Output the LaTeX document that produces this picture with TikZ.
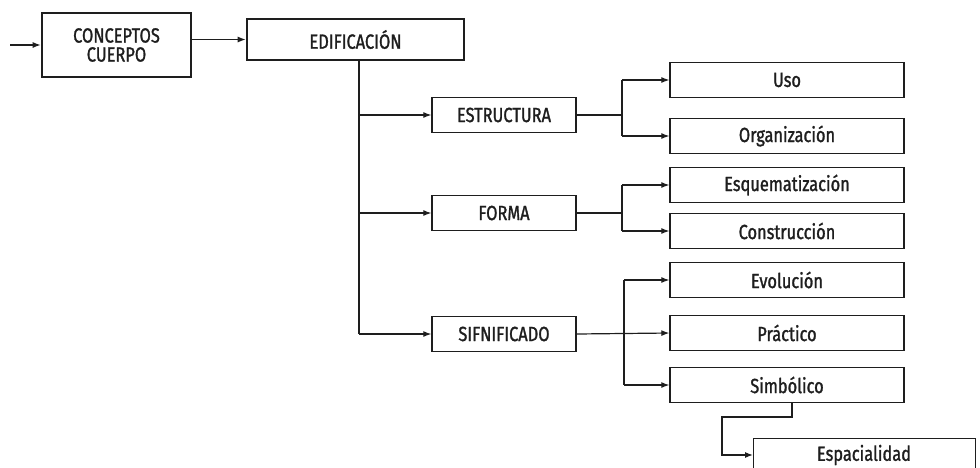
\documentclass[tikz,border=0pt]{standalone}
\usepackage{fontspec}
\setmainfont{Fira Sans}[FakeStretch=0.8,FakeBold=1.3]
\usetikzlibrary{arrows.meta}
\definecolor{ink}{HTML}{1E1E1E}
\begin{document}
\begin{tikzpicture}[x=1pt,y=-1pt,
  box/.style={draw=ink, line width=1.3pt, minimum height=35pt, inner sep=0pt,
              font=\fontsize{20.5}{19}\selectfont, text=ink},
  bigbox/.style={box, line width=2.6pt},
  midbox/.style={box, minimum width=144pt},
  leafbox/.style={box, minimum width=234pt},
  conn/.style={draw=ink, line width=1.2pt},
  arr/.style={conn, -{Latex[length=8pt,width=6pt]}}]
\path[use as bounding box] (0,0) rectangle (980,467);
\clip (0,0) rectangle (980,467);

% main boxes
\node[bigbox, minimum width=149pt, minimum height=64pt, align=center] (c) at (116.5,45) {CONCEPTOS\\CUERPO};
\node[bigbox, minimum width=217pt, minimum height=41pt] (e) at (355.5,39.5) {EDIFICACIÓN};

% middle boxes
\node[midbox] (es) at (504,115) {ESTRUCTURA};
\node[midbox] (fo) at (504,213) {FORMA};
\node[midbox] (si) at (504,334) {SIFNIFICADO};

% leaves
\node[leafbox] (uso) at (787,80)  {Uso};
\node[leafbox] (org) at (787,136) {Organización};
\node[leafbox] (esq) at (787,185) {Esquematización};
\node[leafbox] (con) at (787,231) {Construcción};
\node[leafbox] (evo) at (787,280) {Evolución};
\node[leafbox] (pra) at (787,333) {Práctico};
\node[leafbox] (sim) at (787,385) {Simbólico};
\node[box, minimum width=222pt, anchor=north west] (spa) at (753,437.5) {};
\node[font=\fontsize{20.5}{19}\selectfont, text=ink] (spat) at (864,455) {Espacialidad};

% helper coordinates
\coordinate (in) at (10,45);
\coordinate (t) at (359,0);
\coordinate (j1) at (622,0);
\coordinate (j3) at (624,0);
\coordinate (d) at (792,0);
\coordinate (k) at (722,417);

% connectors
\draw[arr] (in) -- (c.west);
\draw[arr] (c.east |- e.west) -- (e.west);
\draw[conn] (e.south -| t) -- (t |- si);
\draw[arr] (t |- es) -- (es.west);
\draw[arr] (t |- fo) -- (fo.west);
\draw[arr] (t |- si) -- (si.west);

\draw[conn] (es.east) -- (j1 |- es);
\draw[arr] (j1 |- uso) -- (uso.west);
\draw[arr] (j1 |- org) -- (org.west);
\draw[conn] (j1 |- uso) -- (j1 |- org);

\draw[conn] (fo.east) -- (j1 |- fo);
\draw[arr] (j1 |- esq) -- (esq.west);
\draw[arr] (j1 |- con) -- (con.west);
\draw[conn] (j1 |- esq) -- (j1 |- con);

\draw[arr] (si.east) -- (pra.west);
\draw[arr] (j3 |- evo) -- (evo.west);
\draw[arr] (j3 |- sim) -- (sim.west);
\draw[conn] (j3 |- evo) -- (j3 |- sim);

\draw[arr] (sim.south -| d) -- (d |- k) -- (k) -- (k |- spat) -- (spa.west |- spat);
\end{tikzpicture}
\end{document}
